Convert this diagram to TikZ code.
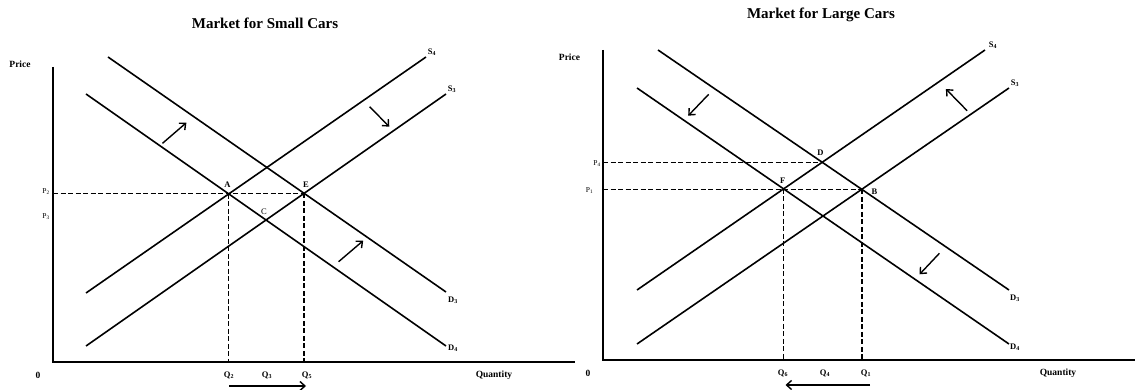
\documentclass[tikz,border=0pt]{standalone}
\usepackage{fontspec}
\setmainfont{Liberation Serif}
\usetikzlibrary{arrows.meta,intersections}
\begin{document}
\begin{tikzpicture}[x=1pt,y=-1pt,
  curve/.style={line width=1.6pt},
  axisline/.style={line width=1.3pt},
  guide/.style={line width=1.5pt, dash pattern=on 5pt off 2.5pt},
  shiftarrow/.style={line width=1.4pt, -{Straight Barb[length=5pt,width=9pt,line width=1.4pt]}},
  lbl/.style={font=\bfseries\fontsize{8.5}{9}\selectfont, inner sep=0pt},
  axlbl/.style={font=\bfseries\fontsize{9.5}{10}\selectfont, inner sep=0pt},
  plbl/.style={font=\fontsize{7.5}{8}\selectfont, inner sep=0pt},
  ttl/.style={font=\bfseries\fontsize{15}{16}\selectfont, inner sep=0pt}]
\useasboundingbox (0,0) rectangle (1135,390);

% ===================== Left panel =====================
\node[ttl] (t1) at (265,23) {Market for Small Cars};
\coordinate (ytop1) at (53,67);
\coordinate (o1) at (53,362);
\coordinate (xend1) at (575,362);
\draw[axisline] (ytop1) -- (o1) -- (xend1);
\node[axlbl] (price1) at (20,64) {Price};
\node[axlbl] (zero1) at (38,375) {0};
\node[axlbl] (quant1) at (494,375) {Quantity};

\coordinate (d3a) at (108,57);  \coordinate (d3b) at (446,292);
\coordinate (d4a) at (86,94);   \coordinate (d4b) at (446,346);
\coordinate (s4a) at (86,293);  \coordinate (s4b) at (426,57);
\coordinate (s3a) at (86,346);  \coordinate (s3b) at (446,94);
\draw[curve, name path=D3l] (d3a) -- (d3b);
\draw[curve, name path=D4l] (d4a) -- (d4b);
\draw[curve, name path=S4l] (s4a) -- (s4b);
\draw[curve, name path=S3l] (s3a) -- (s3b);
\path[name intersections={of=D4l and S4l, by=A}];
\path[name intersections={of=D3l and S3l, by=E}];
\path[name intersections={of=D4l and S3l, by=C}];

\draw[guide] (o1|-E) -- (E);
\draw[guide] (A) -- (A|-o1);
\draw[guide] (E) -- (E|-o1);

\node[lbl] (labA) at (227.5,185) {A};
\node[lbl] (labE) at (306,185) {E};
\node[lbl,font=\fontsize{8.5}{9}\selectfont] (labC) at (264,212) {C};
\node[lbl] (labS4l) at (432,52) {S\textsubscript{4}};
\node[lbl] (labS3l) at (452,89) {S\textsubscript{3}};
\node[lbl] (labD3l) at (453,300) {D\textsubscript{3}};
\node[lbl] (labD4l) at (453,348) {D\textsubscript{4}};
\node[plbl] (labP2) at (46,192) {P\textsubscript{2}};
\node[plbl] (labP3) at (46,217) {P\textsubscript{3}};
\node[lbl] (labQ2) at (229,375) {Q\textsubscript{2}};
\node[lbl] (labQ3) at (267,375) {Q\textsubscript{3}};
\node[lbl] (labQ5) at (307,375) {Q\textsubscript{5}};

\coordinate (ar1a) at (162.5,143.3); \coordinate (ar1b) at (186.4,122.7);
\coordinate (ar2a) at (369.6,106.7); \coordinate (ar2b) at (389.3,126.7);
\coordinate (ar3a) at (338.6,261.7); \coordinate (ar3b) at (363.2,240.7);
\coordinate (ar4a) at (229,386);     \coordinate (ar4b) at (306,386);
\draw[shiftarrow] (ar1a) -- (ar1b);
\draw[shiftarrow] (ar2a) -- (ar2b);
\draw[shiftarrow] (ar3a) -- (ar3b);
\draw[shiftarrow] (ar4a) -- (ar4b);

% ===================== Right panel =====================
\node[ttl] (t2) at (821,15) {Market for Large Cars};
\coordinate (ytop2) at (603,50);
\coordinate (o2) at (603,360);
\coordinate (xend2) at (1135,360);
\draw[axisline] (ytop2) -- (o2) -- (xend2);
\node[axlbl] (price2) at (569.5,57) {Price};
\node[axlbl] (zero2) at (588,373) {0};
\node[axlbl] (quant2) at (1058,373) {Quantity};

\coordinate (rd3a) at (658,50);  \coordinate (rd3b) at (1009,290);
\coordinate (rd4a) at (637,88);  \coordinate (rd4b) at (1009,344);
\coordinate (rs4a) at (637,290); \coordinate (rs4b) at (985,50);
\coordinate (rs3a) at (637,344); \coordinate (rs3b) at (1009,88);
\draw[curve, name path=RD3] (rd3a) -- (rd3b);
\draw[curve, name path=RD4] (rd4a) -- (rd4b);
\draw[curve, name path=RS4] (rs4a) -- (rs4b);
\draw[curve, name path=RS3] (rs3a) -- (rs3b);
\path[name intersections={of=RD4 and RS4, by=F}];
\path[name intersections={of=RD3 and RS3, by=B}];
\path[name intersections={of=RD3 and RS4, by=D}];

\draw[guide] (o2|-D) -- (D);
\draw[guide] (o2|-B) -- (B);
\draw[guide] (F) -- (F|-o2);
\draw[guide] (B) -- (B|-o2);

\node[lbl] (labD) at (820.5,152.5) {D};
\node[lbl] (labF) at (782.6,181) {F};
\node[lbl] (labB) at (874.5,192) {B};
\node[lbl] (labS4r) at (993,45) {S\textsubscript{4}};
\node[lbl] (labS3r) at (1015,83) {S\textsubscript{3}};
\node[lbl] (labD3r) at (1015,298) {D\textsubscript{3}};
\node[lbl] (labD4r) at (1015,347) {D\textsubscript{4}};
\node[plbl] (labP4) at (597,164) {P\textsubscript{4}};
\node[plbl] (labP1) at (589.5,191) {P\textsubscript{1}};
\node[lbl] (labQ6) at (783,373) {Q\textsubscript{6}};
\node[lbl] (labQ4) at (825,373) {Q\textsubscript{4}};
\node[lbl] (labQ1) at (866,373) {Q\textsubscript{1}};

\coordinate (br1a) at (708.7,94.3);  \coordinate (br1b) at (688.2,115.7);
\coordinate (br2a) at (967.1,110.7); \coordinate (br2b) at (945.9,89);
\coordinate (br3a) at (939.4,253.3); \coordinate (br3b) at (919.6,274.3);
\coordinate (br4a) at (870,385);     \coordinate (br4b) at (785.5,385);
\draw[shiftarrow] (br1a) -- (br1b);
\draw[shiftarrow] (br2a) -- (br2b);
\draw[shiftarrow] (br3a) -- (br3b);
\draw[shiftarrow] (br4a) -- (br4b);
\end{tikzpicture}
\end{document}
